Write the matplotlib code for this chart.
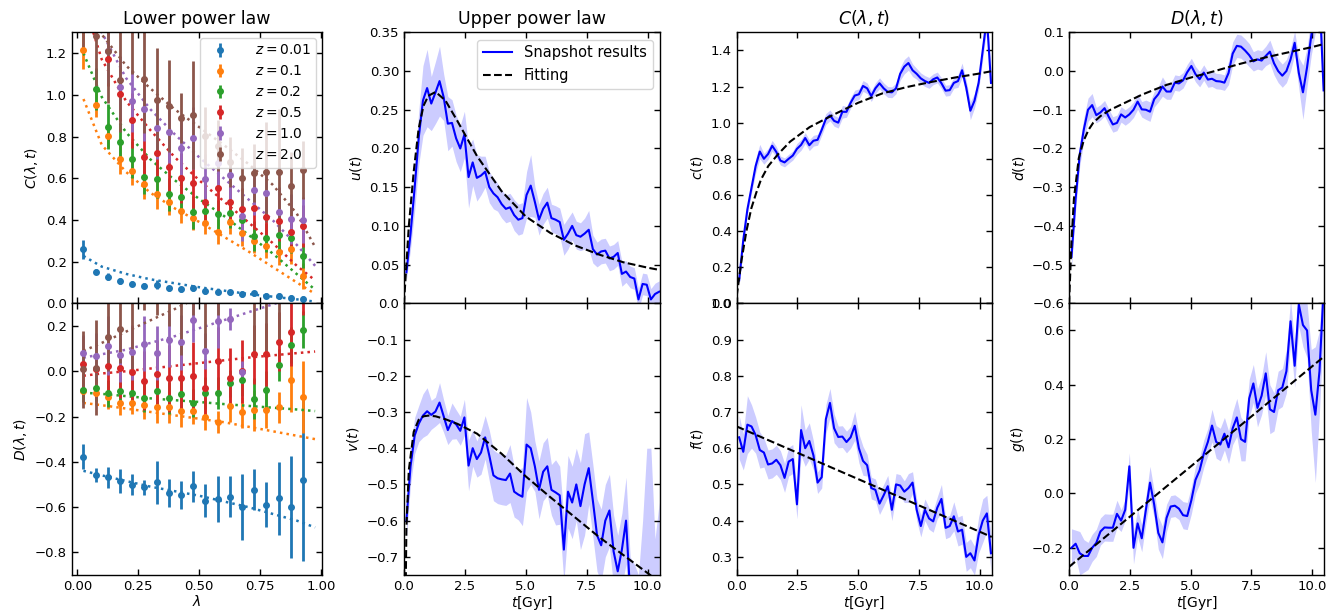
import matplotlib

matplotlib.use("Agg")

import matplotlib.pyplot as plt
import numpy as np

# ---- left column: lambda bins, one entry per redshift ----
lam = [0.025, 0.075, 0.125, 0.175, 0.225, 0.275, 0.325, 0.375, 0.425, 0.475,
       0.525, 0.575, 0.625, 0.675, 0.725, 0.775, 0.825, 0.875, 0.925]
lam_fit = [0.025, 0.1, 0.2, 0.3, 0.4, 0.5, 0.6, 0.7, 0.8, 0.9, 0.975]
z_labels = ["$z=0.01$", "$z=0.1$", "$z=0.2$", "$z=0.5$", "$z=1.0$", "$z=2.0$"]

C_z001 = [0.259, 0.152, 0.128, 0.107, 0.093, 0.085, 0.090, 0.072, 0.067, 0.072,
          0.059, 0.056, 0.053, 0.045, 0.048, 0.037, 0.037, 0.027, 0.021]
C_z01 = [1.213, 0.952, 0.803, 0.691, 0.637, 0.571, 0.523, 0.485, 0.445, 0.410,
         0.384, 0.344, 0.392, 0.336, 0.300, 0.275, 0.245, 0.259, 0.131]
C_z02 = [1.400, 1.027, 0.848, 0.776, 0.691, 0.605, 0.597, 0.523, 0.509, 0.437,
         0.445, 0.427, 0.432, 0.400, 0.323, 0.315, 0.328, 0.312, 0.227]
C_z05 = [1.600, 1.450, 1.173, 1.005, 0.877, 0.704, 0.720, 0.656, 0.603, 0.576,
         0.488, 0.555, 0.485, 0.451, 0.456, 0.413, 0.397, 0.344, 0.371]
C_z10 = [1.700, 1.500, 1.208, 1.037, 0.971, 0.931, 0.840, 0.821, 0.747, 0.792,
         0.597, 0.672, 0.616, 0.419, 0.544, 0.531, 0.437, 0.405, 0.400]
C_z20 = [1.450, 1.283, 1.211, 1.072, 1.400, 1.077, 0.973, 0.947, 0.888, 0.904,
         0.803, 0.757, 0.680, 0.603, 0.624, 0.629, 0.632, 0.565, 0.640]

C_err_z001 = [0.046, 0.012, 0.016, 0.014, 0.012, 0.012, 0.020, 0.012, 0.012, 0.014,
              0.012, 0.012, 0.012, 0.014, 0.012, 0.012, 0.014, 0.014, 0.016]
C_err_z01 = [0.09, 0.06, 0.06, 0.07, 0.07, 0.07, 0.07, 0.06, 0.06, 0.06,
             0.05, 0.06, 0.06, 0.06, 0.06, 0.06, 0.06, 0.07, 0.06]
C_err_z02 = [0.10, 0.10, 0.11, 0.09, 0.09, 0.08, 0.09, 0.08, 0.08, 0.08,
             0.07, 0.07, 0.07, 0.08, 0.07, 0.07, 0.07, 0.07, 0.06]
C_err_z05 = [0.15, 0.12, 0.13, 0.13, 0.13, 0.14, 0.14, 0.13, 0.12, 0.12,
             0.11, 0.12, 0.11, 0.10, 0.10, 0.10, 0.10, 0.09, 0.10]
C_err_z10 = [0.20, 0.20, 0.15, 0.15, 0.15, 0.15, 0.15, 0.15, 0.15, 0.15,
             0.12, 0.13, 0.13, 0.12, 0.12, 0.12, 0.12, 0.12, 0.11]
C_err_z20 = [0.25, 0.25, 0.25, 0.25, 0.30, 0.26, 0.25, 0.22, 0.12, 0.26,
             0.14, 0.12, 0.12, 0.14, 0.14, 0.24, 0.30, 0.16, 0.14]

C_fit_z001 = [0.227, 0.176, 0.141, 0.115, 0.096, 0.077, 0.061, 0.045, 0.032, 0.019, 0.008]
C_fit_z01 = [0.98, 0.76, 0.63, 0.53, 0.455, 0.39, 0.32, 0.25, 0.175, 0.10, 0.045]
C_fit_z02 = [1.20, 0.99, 0.82, 0.69, 0.59, 0.50, 0.42, 0.33, 0.24, 0.14, 0.065]
C_fit_z05 = [1.45, 1.17, 0.97, 0.83, 0.70, 0.59, 0.49, 0.39, 0.29, 0.18, 0.11]
C_fit_z10 = [1.60, 1.30, 1.08, 0.93, 0.81, 0.70, 0.60, 0.50, 0.40, 0.28, 0.18]
C_fit_z20 = [1.50, 1.29, 1.14, 1.03, 0.93, 0.845, 0.76, 0.67, 0.57, 0.43, 0.27]

D_z001 = [-0.378, -0.459, -0.469, -0.487, -0.501, -0.513, -0.491, -0.538, -0.547, -0.509,
          -0.572, -0.565, -0.554, -0.599, -0.524, -0.590, -0.562, -0.599, -0.479]
D_z01 = [-0.087, -0.097, -0.115, -0.142, -0.141, -0.150, -0.157, -0.160, -0.175, -0.175,
         -0.200, -0.224, -0.153, -0.182, -0.172, -0.172, -0.160, -0.038, -0.113]
D_z02 = [-0.085, -0.072, -0.097, -0.087, -0.094, -0.118, -0.088, -0.118, -0.100, -0.140,
         -0.096, -0.097, -0.054, -0.038, -0.122, -0.081, 0.028, 0.116, 0.184]
D_z05 = [0.031, 0.009, 0.024, 0.013, -0.003, -0.041, -0.012, -0.032, -0.032, -0.023,
         -0.076, 0.044, -0.028, 0.000, 0.075, 0.075, 0.131, 0.172, 0.400]
D_z10 = [0.082, 0.068, 0.112, 0.072, 0.083, 0.122, 0.080, 0.137, 0.127, 0.228,
         0.090, 0.222, 0.230, -0.003, 0.400, 0.420, 0.450, 0.480, 0.500]
D_z20 = [0.009, 0.016, 0.151, 0.185, 0.350, 0.450, 0.450, 0.400, 0.400, 0.450,
         0.400, 0.450, 0.500, 0.500, 0.400, 0.400, 0.400, 0.500, 0.500]

D_err_z001 = [0.055, 0.032, 0.046, 0.053, 0.046, 0.032, 0.096, 0.060, 0.062, 0.070,
              0.072, 0.100, 0.090, 0.145, 0.090, 0.100, 0.163, 0.226, 0.360]
D_err_z01 = [0.04, 0.05, 0.05, 0.05, 0.05, 0.06, 0.07, 0.07, 0.07, 0.06,
             0.06, 0.05, 0.07, 0.07, 0.09, 0.08, 0.07, 0.14, 0.16]
D_err_z02 = [0.05, 0.06, 0.06, 0.06, 0.06, 0.06, 0.06, 0.07, 0.07, 0.06,
             0.07, 0.07, 0.06, 0.07, 0.09, 0.08, 0.07, 0.08, 0.08]
D_err_z05 = [0.12, 0.13, 0.13, 0.13, 0.13, 0.13, 0.15, 0.15, 0.15, 0.15,
             0.13, 0.15, 0.13, 0.14, 0.13, 0.14, 0.13, 0.15, 0.15]
D_err_z10 = [0.08, 0.10, 0.13, 0.12, 0.12, 0.12, 0.12, 0.12, 0.12, 0.10,
             0.08, 0.12, 0.05, 0.05, 0.10, 0.10, 0.10, 0.10, 0.10]
D_err_z20 = [0.17, 0.21, 0.15, 0.15, 0.35, 0.18, 0.20, 0.20, 0.33, 0.20,
             0.30, 0.20, 0.20, 0.20, 0.33, 0.33, 0.28, 0.20, 0.20]

D_fit_z001 = [-0.44, -0.46, -0.485, -0.51, -0.53, -0.55, -0.575, -0.60, -0.63, -0.66, -0.69]
D_fit_z01 = [-0.14, -0.15, -0.165, -0.18, -0.195, -0.21, -0.225, -0.245, -0.265, -0.285, -0.30]
D_fit_z02 = [-0.095, -0.10, -0.11, -0.12, -0.128, -0.136, -0.145, -0.153, -0.161, -0.169, -0.176]
D_fit_z05 = [-0.02, -0.01, 0.0, 0.012, 0.024, 0.036, 0.048, 0.06, 0.07, 0.08, 0.087]
D_fit_z10 = [0.06, 0.075, 0.095, 0.125, 0.155, 0.19, 0.225, 0.26, 0.295, 0.33, 0.36]
D_fit_z20 = [0.09, 0.125, 0.175, 0.225, 0.275, 0.33, 0.38, 0.43, 0.48, 0.53, 0.57]

# ---- snapshot time series ----
t = [0.10, 0.27, 0.44, 0.61, 0.78, 0.95, 1.12, 1.29, 1.46, 1.63,
     1.80, 1.97, 2.14, 2.31, 2.48, 2.65, 2.82, 2.99, 3.16, 3.33,
     3.50, 3.67, 3.84, 4.01, 4.18, 4.35, 4.52, 4.69, 4.86, 5.03,
     5.20, 5.37, 5.54, 5.71, 5.88, 6.05, 6.22, 6.39, 6.56, 6.73,
     6.90, 7.07, 7.24, 7.41, 7.58, 7.75, 7.92, 8.09, 8.26, 8.43,
     8.60, 8.77, 8.94, 9.11, 9.28, 9.45, 9.62, 9.79, 9.96, 10.13,
     10.30, 10.47]
t_fit = [0.0, 0.1, 0.2, 0.4, 0.6, 0.8, 1.0, 1.3, 1.7, 2.2,
         3.0, 4.0, 5.0, 6.0, 7.0, 8.0, 9.0, 10.0, 10.5]
t_line = [0.0, 10.5]

u = [0.040, 0.090, 0.150, 0.215, 0.262, 0.278, 0.258, 0.272, 0.287, 0.266,
     0.232, 0.233, 0.213, 0.200, 0.218, 0.163, 0.182, 0.162, 0.165, 0.170,
     0.150, 0.142, 0.137, 0.128, 0.122, 0.124, 0.114, 0.108, 0.110, 0.140,
     0.152, 0.131, 0.108, 0.122, 0.130, 0.110, 0.108, 0.105, 0.082, 0.090,
     0.100, 0.088, 0.086, 0.090, 0.095, 0.070, 0.063, 0.067, 0.068, 0.058,
     0.060, 0.065, 0.038, 0.041, 0.034, 0.032, 0.005, 0.025, 0.024, 0.005,
     0.012, 0.015]
u_err = [0.010, 0.020, 0.030, 0.035, 0.045, 0.050, 0.035, 0.040, 0.045, 0.030,
         0.035, 0.030, 0.030, 0.030, 0.030, 0.040, 0.030, 0.030, 0.025, 0.020,
         0.020, 0.020, 0.018, 0.018, 0.018, 0.018, 0.020, 0.020, 0.020, 0.030,
         0.040, 0.020, 0.020, 0.020, 0.020, 0.018, 0.018, 0.018, 0.020, 0.020,
         0.018, 0.018, 0.018, 0.020, 0.025, 0.018, 0.016, 0.016, 0.016, 0.016,
         0.016, 0.016, 0.016, 0.014, 0.014, 0.014, 0.014, 0.014, 0.014, 0.014,
         0.014, 0.014]
u_fit = [0.0, 0.05, 0.10, 0.17, 0.225, 0.255, 0.268, 0.273, 0.262, 0.235,
         0.19, 0.145, 0.112, 0.091, 0.075, 0.063, 0.053, 0.046, 0.043]

v = [-0.600, -0.450, -0.365, -0.332, -0.310, -0.298, -0.308, -0.299, -0.274, -0.312,
     -0.350, -0.325, -0.334, -0.352, -0.315, -0.448, -0.400, -0.430, -0.412, -0.370,
     -0.420, -0.475, -0.483, -0.486, -0.488, -0.470, -0.520, -0.528, -0.534, -0.390,
     -0.400, -0.450, -0.515, -0.465, -0.450, -0.515, -0.522, -0.530, -0.680, -0.520,
     -0.550, -0.500, -0.560, -0.500, -0.455, -0.545, -0.640, -0.668, -0.600, -0.572,
     -0.685, -0.740, -0.680, -0.600, -0.800, -0.820, -0.850, -0.800, -0.850, -0.800,
     -0.850, -0.800]
v_err = [0.05, 0.05, 0.05, 0.05, 0.06, 0.065, 0.04, 0.04, 0.055, 0.045,
         0.04, 0.05, 0.04, 0.04, 0.05, 0.07, 0.05, 0.05, 0.06, 0.06,
         0.07, 0.07, 0.07, 0.07, 0.07, 0.08, 0.07, 0.07, 0.08, 0.13,
         0.10, 0.07, 0.08, 0.08, 0.08, 0.07, 0.09, 0.08, 0.09, 0.10,
         0.10, 0.10, 0.12, 0.14, 0.10, 0.10, 0.10, 0.10, 0.10, 0.10,
         0.10, 0.10, 0.10, 0.12, 0.10, 0.10, 0.10, 0.20, 0.45, 0.40,
         0.20, 0.25]
v_fit = [-1.2, -0.62, -0.46, -0.355, -0.322, -0.312, -0.31, -0.312, -0.32, -0.333,
         -0.36, -0.415, -0.478, -0.535, -0.59, -0.645, -0.695, -0.745, -0.77]

c = [0.127, 0.350, 0.520, 0.640, 0.760, 0.840, 0.800, 0.826, 0.872, 0.838,
     0.790, 0.780, 0.800, 0.818, 0.855, 0.877, 0.915, 0.875, 0.900, 0.905,
     0.960, 1.020, 1.040, 1.010, 1.000, 1.060, 1.060, 1.110, 1.150, 1.157,
     1.203, 1.190, 1.147, 1.190, 1.218, 1.190, 1.170, 1.168, 1.190, 1.270,
     1.310, 1.330, 1.290, 1.270, 1.245, 1.230, 1.220, 1.240, 1.250, 1.218,
     1.177, 1.180, 1.220, 1.230, 1.290, 1.194, 1.066, 1.121, 1.220, 1.400,
     1.580, 1.220]
c_err = [0.02, 0.03, 0.03, 0.03, 0.04, 0.04, 0.03, 0.03, 0.03, 0.03,
         0.025, 0.025, 0.025, 0.025, 0.03, 0.03, 0.03, 0.03, 0.03, 0.03,
         0.03, 0.03, 0.03, 0.03, 0.03, 0.035, 0.03, 0.03, 0.03, 0.03,
         0.03, 0.03, 0.03, 0.03, 0.03, 0.03, 0.03, 0.03, 0.03, 0.035,
         0.04, 0.04, 0.035, 0.03, 0.03, 0.03, 0.03, 0.03, 0.03, 0.03,
         0.03, 0.03, 0.03, 0.035, 0.04, 0.04, 0.05, 0.04, 0.04, 0.05,
         0.06, 0.06]
c_fit = [0.04, 0.14, 0.24, 0.40, 0.525, 0.61, 0.685, 0.76, 0.825, 0.895,
         0.975, 1.045, 1.11, 1.162, 1.197, 1.225, 1.25, 1.272, 1.285]

f = [0.630, 0.590, 0.665, 0.660, 0.636, 0.595, 0.588, 0.555, 0.558, 0.568,
     0.553, 0.518, 0.563, 0.570, 0.445, 0.650, 0.600, 0.620, 0.580, 0.505,
     0.520, 0.680, 0.725, 0.655, 0.631, 0.632, 0.617, 0.630, 0.662, 0.600,
     0.565, 0.553, 0.490, 0.485, 0.447, 0.470, 0.495, 0.430, 0.500, 0.497,
     0.480, 0.490, 0.505, 0.430, 0.385, 0.430, 0.406, 0.398, 0.436, 0.460,
     0.380, 0.385, 0.412, 0.370, 0.375, 0.300, 0.310, 0.290, 0.360, 0.400,
     0.420, 0.310]
f_err = [0.06, 0.05, 0.08, 0.06, 0.05, 0.05, 0.04, 0.04, 0.04, 0.04,
         0.04, 0.04, 0.04, 0.04, 0.04, 0.07, 0.05, 0.05, 0.04, 0.03,
         0.03, 0.04, 0.04, 0.04, 0.03, 0.03, 0.03, 0.03, 0.04, 0.04,
         0.04, 0.03, 0.03, 0.03, 0.03, 0.03, 0.03, 0.03, 0.03, 0.03,
         0.03, 0.04, 0.03, 0.03, 0.03, 0.03, 0.03, 0.03, 0.03, 0.04,
         0.03, 0.03, 0.04, 0.04, 0.04, 0.04, 0.04, 0.04, 0.05, 0.06,
         0.05, 0.05]
f_fit = [0.66, 0.355]

d = [-0.480, -0.330, -0.215, -0.150, -0.100, -0.088, -0.114, -0.107, -0.096, -0.118,
     -0.138, -0.134, -0.112, -0.120, -0.112, -0.100, -0.079, -0.099, -0.100, -0.105,
     -0.073, -0.060, -0.040, -0.053, -0.053, -0.030, -0.032, -0.024, -0.003, 0.013,
     -0.008, -0.021, -0.004, -0.022, -0.020, -0.026, -0.027, -0.030, -0.005, 0.045,
     0.065, 0.063, 0.053, 0.041, 0.025, 0.030, 0.027, 0.039, 0.050, 0.020,
     0.000, -0.012, 0.000, 0.030, 0.073, -0.005, -0.055, 0.010, 0.090, 0.160,
     0.200, -0.050]
d_err = [0.03, 0.03, 0.03, 0.03, 0.03, 0.03, 0.02, 0.02, 0.02, 0.02,
         0.02, 0.02, 0.02, 0.02, 0.02, 0.02, 0.02, 0.02, 0.025, 0.025,
         0.02, 0.02, 0.025, 0.02, 0.02, 0.02, 0.02, 0.02, 0.02, 0.02,
         0.02, 0.02, 0.02, 0.02, 0.02, 0.02, 0.02, 0.02, 0.03, 0.03,
         0.03, 0.03, 0.03, 0.03, 0.025, 0.025, 0.025, 0.025, 0.03, 0.03,
         0.03, 0.03, 0.03, 0.03, 0.03, 0.04, 0.07, 0.05, 0.05, 0.06,
         0.06, 0.06]
d_fit = [-0.60, -0.44, -0.33, -0.225, -0.18, -0.152, -0.133, -0.116, -0.10, -0.085,
         -0.061, -0.036, -0.017, 0.0, 0.018, 0.034, 0.048, 0.062, 0.07]

g = [-0.200, -0.185, -0.220, -0.230, -0.230, -0.200, -0.182, -0.140, -0.125, -0.126,
     -0.126, -0.075, -0.100, -0.060, 0.100, -0.200, -0.110, -0.165, -0.060, 0.040,
     -0.040, -0.145, -0.180, -0.090, -0.048, -0.045, -0.056, -0.080, -0.083, -0.025,
     0.050, 0.085, 0.146, 0.190, 0.250, 0.190, 0.180, 0.220, 0.170, 0.240,
     0.280, 0.200, 0.190, 0.350, 0.405, 0.315, 0.360, 0.442, 0.310, 0.300,
     0.380, 0.390, 0.450, 0.634, 0.470, 0.696, 0.620, 0.600, 0.380, 0.290,
     0.450, 0.750]
g_err = [0.07, 0.05, 0.08, 0.06, 0.05, 0.05, 0.05, 0.05, 0.05, 0.05,
         0.05, 0.05, 0.04, 0.04, 0.05, 0.06, 0.05, 0.05, 0.05, 0.06,
         0.05, 0.06, 0.06, 0.05, 0.04, 0.04, 0.04, 0.05, 0.05, 0.05,
         0.05, 0.05, 0.05, 0.05, 0.06, 0.06, 0.06, 0.06, 0.06, 0.06,
         0.07, 0.08, 0.07, 0.07, 0.07, 0.07, 0.07, 0.08, 0.09, 0.07,
         0.07, 0.07, 0.08, 0.08, 0.08, 0.08, 0.08, 0.10, 0.15, 0.25,
         0.15, 0.12]
g_fit = [-0.27, 0.505]

Z_COLORS = ["C0", "C1", "C2", "C3", "C4", "C5"]
TICK_FS = 9.5
LABEL_FS = 10
TITLE_FS = 12.5
LEGEND_FS = 10.5


def style(ax):
    ax.tick_params(direction="in", top=True, right=True, labelsize=TICK_FS,
                   length=4.5, width=1.0)
    for s in ax.spines.values():
        s.set_linewidth(1.0)


def lambdaPanel(ax, values, errs, fits, legend=False):
    for y, e, fit, col, lab in zip(values, errs, fits, Z_COLORS, z_labels):
        ax.errorbar(lam, y, yerr=e, fmt="o", ms=4, color=col, elinewidth=2,
                    capsize=0, label=lab)
        ax.plot(lam_fit, fit, ":", color=col, lw=1.8)
    ax.set_xlim(-0.023, 1.002)
    ax.set_xticks([0.0, 0.25, 0.5, 0.75, 1.0])
    if legend:
        ax.legend(loc="upper right", fontsize=10, labelspacing=0.5,
                  handletextpad=1.5, borderaxespad=0.4)


def timePanel(ax, y, err, tf, fit, legend=False):
    y = np.array(y)
    err = np.array(err)
    ax.fill_between(t, y - err, y + err, color="blue", alpha=0.2, lw=0)
    ax.plot(t, y, color="blue", lw=1.5, label="Snapshot results")
    ax.plot(tf, fit, "k--", lw=1.5, label="Fitting")
    ax.set_xlim(0, 10.5)
    ax.set_xticks([0.0, 2.5, 5.0, 7.5, 10.0])
    if legend:
        ax.legend(loc="upper right", fontsize=LEGEND_FS)


def main():
    fig = plt.figure(figsize=(13.31, 6.12), dpi=100)

    lefts = [0.0539, 0.3035, 0.5535, 0.8032]
    widths = [0.1878, 0.1923, 0.1916, 0.1918]
    top_b, top_h = 0.5044, 0.4428
    bot_b, bot_h = 0.0605, 0.4439

    top = [fig.add_axes([l, top_b, w, top_h]) for l, w in zip(lefts, widths)]
    bot = [fig.add_axes([l, bot_b, w, bot_h]) for l, w in zip(lefts, widths)]

    # lower power law
    lambdaPanel(top[0],
                [C_z001, C_z01, C_z02, C_z05, C_z10, C_z20],
                [C_err_z001, C_err_z01, C_err_z02, C_err_z05, C_err_z10, C_err_z20],
                [C_fit_z001, C_fit_z01, C_fit_z02, C_fit_z05, C_fit_z10, C_fit_z20],
                legend=True)
    top[0].set_ylim(0, 1.3)
    top[0].set_yticks([0.0, 0.2, 0.4, 0.6, 0.8, 1.0, 1.2])
    top[0].set_ylabel(r"$C(\lambda, t)$", fontsize=LABEL_FS)
    top[0].set_title("Lower power law", fontsize=TITLE_FS)

    lambdaPanel(bot[0],
                [D_z001, D_z01, D_z02, D_z05, D_z10, D_z20],
                [D_err_z001, D_err_z01, D_err_z02, D_err_z05, D_err_z10, D_err_z20],
                [D_fit_z001, D_fit_z01, D_fit_z02, D_fit_z05, D_fit_z10, D_fit_z20])
    bot[0].set_ylim(-0.9, 0.3)
    bot[0].set_yticks([-0.8, -0.6, -0.4, -0.2, 0.0, 0.2])
    bot[0].set_ylabel(r"$D(\lambda, t)$", fontsize=LABEL_FS)
    bot[0].set_xlabel(r"$\lambda$", fontsize=LABEL_FS, labelpad=1)

    # upper power law
    timePanel(top[1], u, u_err, t_fit, u_fit, legend=True)
    top[1].set_ylim(0, 0.35)
    top[1].set_yticks([0.05, 0.10, 0.15, 0.20, 0.25, 0.30, 0.35])
    top[1].set_ylabel("$u(t)$", fontsize=LABEL_FS)
    top[1].set_title("Upper power law", fontsize=TITLE_FS)

    timePanel(bot[1], v, v_err, t_fit, v_fit)
    bot[1].set_ylim(-0.75, 0.0)
    bot[1].set_yticks([-0.7, -0.6, -0.5, -0.4, -0.3, -0.2, -0.1, 0.0])
    bot[1].set_ylabel("$v(t)$", fontsize=LABEL_FS)

    # C(lambda, t)
    timePanel(top[2], c, c_err, t_fit, c_fit)
    top[2].set_ylim(0, 1.5)
    top[2].set_yticks([0.0, 0.2, 0.4, 0.6, 0.8, 1.0, 1.2, 1.4])
    top[2].set_ylabel("$c(t)$", fontsize=LABEL_FS)
    top[2].set_title(r"$C(\lambda, t)$", fontsize=TITLE_FS)

    timePanel(bot[2], f, f_err, t_line, f_fit)
    bot[2].set_ylim(0.25, 1.0)
    bot[2].set_yticks([0.3, 0.4, 0.5, 0.6, 0.7, 0.8, 0.9, 1.0])
    bot[2].set_ylabel("$f(t)$", fontsize=LABEL_FS)

    # D(lambda, t)
    timePanel(top[3], d, d_err, t_fit, d_fit)
    top[3].set_ylim(-0.6, 0.1)
    top[3].set_yticks([-0.6, -0.5, -0.4, -0.3, -0.2, -0.1, 0.0, 0.1])
    top[3].set_ylabel("$d(t)$", fontsize=LABEL_FS)
    top[3].set_title(r"$D(\lambda, t)$", fontsize=TITLE_FS)

    timePanel(bot[3], g, g_err, t_line, g_fit)
    bot[3].set_ylim(-0.3, 0.7)
    bot[3].set_yticks([-0.2, 0.0, 0.2, 0.4, 0.6])
    bot[3].set_ylabel("$g(t)$", fontsize=LABEL_FS)

    for ax in top:
        style(ax)
        ax.tick_params(labelbottom=False)
    for ax in bot[1:]:
        ax.set_xlabel(r"$t[\mathrm{Gyr}]$", fontsize=LABEL_FS, labelpad=1)
    for ax in bot:
        style(ax)

    fig.savefig("out.png", dpi=100)


main()
